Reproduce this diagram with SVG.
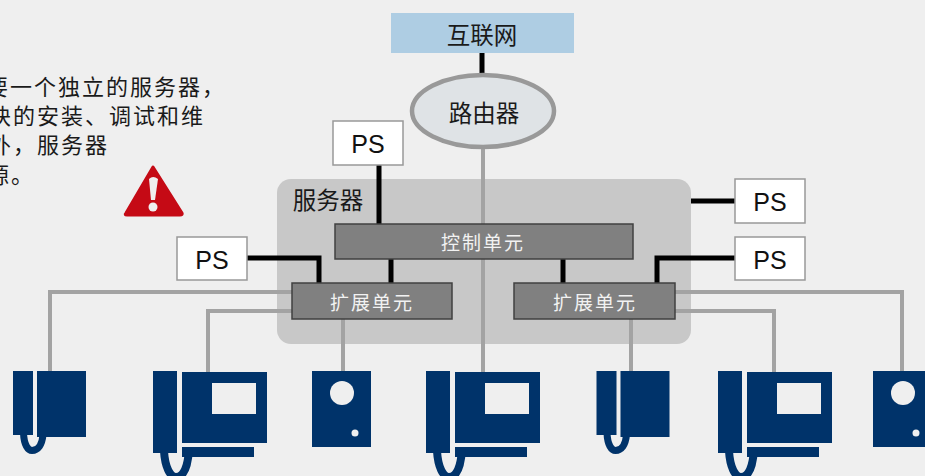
<svg xmlns="http://www.w3.org/2000/svg" width="925" height="476" viewBox="0 0 925 476">
<style>
text{font-family:"Noto Sans CJK SC","Liberation Sans",sans-serif;text-anchor:middle;dominant-baseline:central}
.dark{fill:#1a1a1a;font-size:23.5px}
.ps{fill:#111;font-family:"Liberation Sans",sans-serif;font-size:25px}
.white{fill:#f2f2f2;font-size:19px;letter-spacing:2px}
.note{fill:#1a1a1a;font-size:22px;text-anchor:start;letter-spacing:2px}
.psbox{fill:#fff;stroke:#999;stroke-width:1.5}
.unit{fill:#808080;stroke:#404040;stroke-width:1.5}
.blk{fill:none;stroke:#000;stroke-width:5}
.gry{fill:none;stroke:#a3a3a3;stroke-width:4}
.navy{fill:#00336a}
.cord{fill:none;stroke:#00336a}
.hole{fill:#efefef}
</style>
<defs>
<g id="phone"><rect class="navy" x="0" y="0" width="20" height="64"/><rect class="navy" x="24" y="0" width="49" height="66"/><path class="cord" stroke-width="7" d="M10.5 62C11 74 15 79.5 19 79.5C25 79.5 29 74 30 64"/></g>
<g id="video"><rect class="navy" x="0" y="0" width="24" height="82"/><rect class="navy" x="29" y="1" width="85" height="71"/><rect class="hole" x="59" y="12" width="44" height="31"/><rect class="navy" x="29" y="76" width="72" height="10"/><path class="cord" stroke-width="8" d="M11 80C12 96 17 106 23 106C31 106 35 95 36 78"/></g>
<g id="door"><rect class="navy" x="0" y="0" width="59" height="76"/><circle class="hole" cx="30" cy="22" r="12"/><circle class="hole" cx="43" cy="62" r="3.5"/></g>
</defs>
<rect width="925" height="476" fill="#efefef"/>
<g id="server"><rect x="277" y="179" width="414" height="165" rx="14" fill="#c8c8c8"/><text class="dark" x="328" y="199">服务器</text></g>
<g id="connectors">
<path class="blk" d="M482 53V76M379 165V224M391 259V283M563 259V283M247 258H319V283M735 258H657V283M691 201H735"/>
<path class="gry" d="M483 148V372M292 292H50V372M292 311H208V372M343 319V372M631 319V372M675 292H902V372M675 311H774V372"/>
</g>
<g id="note">
<text class="note" x="-14" y="85">要一个独立的服务器，</text>
<text class="note" x="-11" y="114">块的安装、调试和维</text>
<text class="note" x="-11" y="143">外，服务器</text>
<text class="note" x="-13" y="173">源。</text>
<path d="M153 167L182 213Q183 215 180 215H127Q124 215 126 213Z" fill="#c50a15" stroke="#c50a15" stroke-width="3" stroke-linejoin="round"/>
<path d="M149 179Q153 175 158 179L155 200H151Z" fill="#efefef"/><circle cx="153" cy="207" r="4.5" fill="#efefef"/>
</g>
<g id="internet"><rect x="391" y="13" width="183" height="40" fill="#aecde3"/><text class="dark" x="482" y="34">互联网</text></g>
<g id="router"><ellipse cx="483" cy="111" rx="71" ry="36" fill="#dfe3e6" stroke="#999" stroke-width="4.5"/><text class="dark" x="484" y="112">路由器</text></g>
<g id="ps1"><rect class="psbox" x="333" y="121" width="70" height="44"/><text class="ps" x="368" y="144">PS</text></g>
<g id="ps2"><rect class="psbox" x="177" y="237" width="70" height="43"/><text class="ps" x="212" y="260">PS</text></g>
<g id="ps3"><rect class="psbox" x="735" y="179" width="70" height="44"/><text class="ps" x="770" y="202">PS</text></g>
<g id="ps4"><rect class="psbox" x="735" y="237" width="70" height="43"/><text class="ps" x="770" y="260">PS</text></g>
<g id="control"><rect class="unit" x="335" y="224" width="298" height="35"/><text class="white" x="483" y="241">控制单元</text></g>
<g id="ext1"><rect class="unit" x="292" y="283" width="160" height="36"/><text class="white" x="372" y="301">扩展单元</text></g>
<g id="ext2"><rect class="unit" x="514" y="283" width="161" height="36"/><text class="white" x="595" y="301">扩展单元</text></g>
<g id="device1"><use href="#phone" x="13" y="371"/></g>
<g id="device2"><use href="#video" x="153" y="371"/></g>
<g id="device3"><use href="#door" x="312" y="371"/></g>
<g id="device4"><use href="#video" x="426" y="371"/></g>
<g id="device5"><use href="#phone" x="596.5" y="371"/></g>
<g id="device6"><use href="#video" x="718" y="371"/></g>
<g id="device7"><use href="#door" x="873" y="371"/></g>
</svg>
